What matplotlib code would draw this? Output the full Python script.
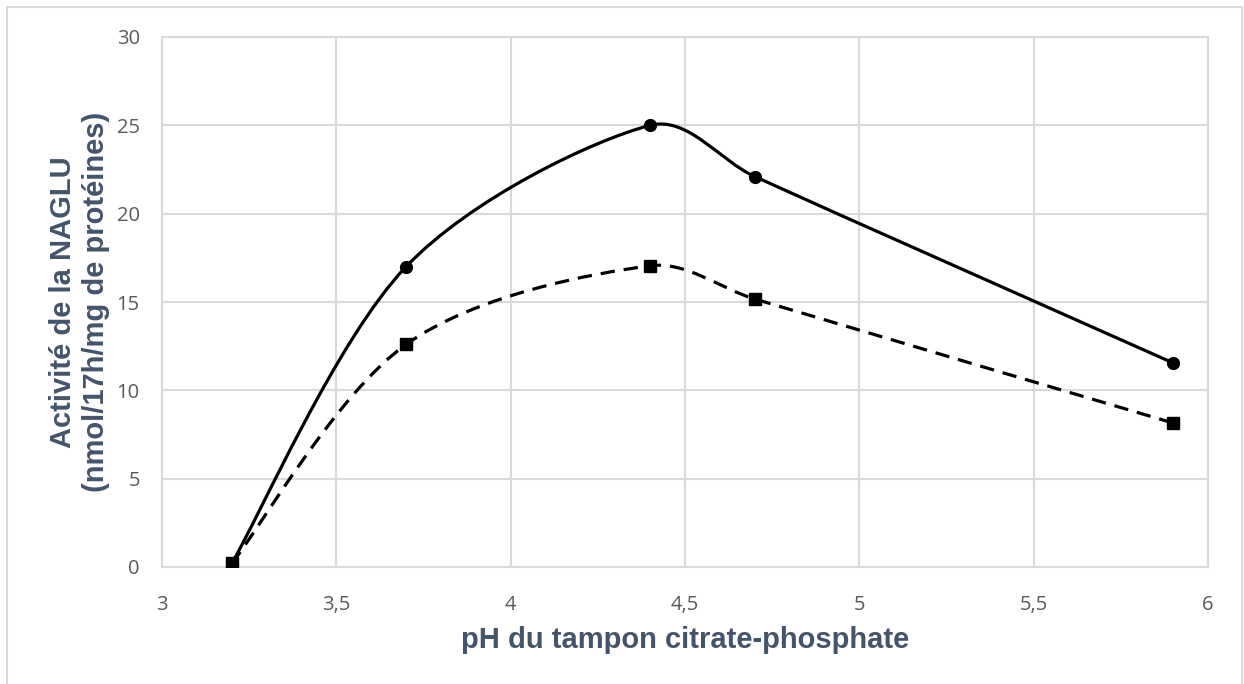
import numpy as np
import matplotlib
matplotlib.use("Agg")
from matplotlib import pyplot as plt
from matplotlib.path import Path
from matplotlib.patches import PathPatch, Rectangle
from matplotlib.ticker import FuncFormatter, MultipleLocator

# Data
ph = [3.2, 3.7, 4.4, 4.7, 5.9]
activite_1 = [0.2, 17.0, 25.0, 22.1, 11.55]   # solid line, circles
activite_2 = [0.2, 12.6, 17.05, 15.17, 8.15]  # dashed line, squares

X_LIM = (3, 6)
Y_LIM = (0, 30)
W, H, DPI = 1244, 684, 100

AX_LEFT, AX_RIGHT, AX_TOP, AX_BOTTOM = 162, 1208, 37, 567  # pixels

TICK_COLOR = "#595959"
TITLE_COLOR = "#44546A"
GRID_COLOR = "#D9D9D9"


def excel_smooth_path(xs, ys, sx, sy):
    """Bezier path through the points, Excel-like smoothing (computed in pixel space)."""
    p = np.column_stack([np.asarray(xs) * sx, np.asarray(ys) * sy])
    n = len(p)
    verts = [p[0]]
    codes = [Path.MOVETO]
    for i in range(n - 1):
        p0 = p[i - 1] if i > 0 else p[i]
        p1, p2 = p[i], p[i + 1]
        p3 = p[i + 2] if i + 2 < n else p[i + 1]
        d12 = np.linalg.norm(p2 - p1)
        t1 = (p2 - p0) / 6
        t2 = (p3 - p1) / 6
        for t in (t1, t2):
            L = np.linalg.norm(t)
            if L > d12 / 3:
                t *= (d12 / 3) / L
        verts += [p1 + t1, p2 - t2, p2]
        codes += [Path.CURVE4] * 3
    verts = np.array(verts)
    verts[:, 0] /= sx
    verts[:, 1] /= sy
    return Path(verts, codes)


fig = plt.figure(figsize=(W / DPI, H / DPI), dpi=DPI)
ax = fig.add_axes([
    AX_LEFT / W,
    1 - AX_BOTTOM / H,
    (AX_RIGHT - AX_LEFT) / W,
    (AX_BOTTOM - AX_TOP) / H,
])

# Outer chart border
fig.patches.append(Rectangle((7, -10), 1235, H - 7 + 10, transform=None,
                             fill=False, edgecolor=GRID_COLOR, linewidth=1.5))

ax.set_xlim(*X_LIM)
ax.set_ylim(*Y_LIM)

sx = (AX_RIGHT - AX_LEFT) / (X_LIM[1] - X_LIM[0])
sy = (AX_BOTTOM - AX_TOP) / (Y_LIM[1] - Y_LIM[0])

ax.add_patch(PathPatch(excel_smooth_path(ph, activite_1, sx, sy), fill=False,
                       edgecolor="black", linewidth=2.3, zorder=3))
ax.add_patch(PathPatch(excel_smooth_path(ph, activite_2, sx, sy), fill=False,
                       edgecolor="black", linewidth=2.3, zorder=3,
                       linestyle=(0, (4.5, 2.8)), capstyle="butt"))
ax.plot(ph, activite_1, linestyle="none", marker="o", markersize=8.5,
        color="black", zorder=4)
ax.plot(ph, activite_2, linestyle="none", marker="s", markersize=9,
        color="black", zorder=4)

# Axes styling
ax.xaxis.set_major_locator(MultipleLocator(0.5))
ax.yaxis.set_major_locator(MultipleLocator(5))
ax.xaxis.set_major_formatter(FuncFormatter(lambda v, _: f"{v:g}".replace(".", ",")))
ax.grid(True, color=GRID_COLOR, linewidth=1.5)
ax.set_axisbelow(True)
for s in ax.spines.values():
    s.set_color(GRID_COLOR)
    s.set_linewidth(1.5)
ax.tick_params(length=0, labelsize=14.5, labelcolor=TICK_COLOR,
               labelfontfamily="Open Sans")
ax.tick_params(axis="x", pad=20)
ax.tick_params(axis="y", pad=16)

ax.set_xlabel("pH du tampon citrate-phosphate", fontsize=21, fontweight="bold",
              color=TITLE_COLOR, family="Liberation Sans", labelpad=8)
ax.set_ylabel("Activité de la NAGLU\n(nmol/17h/mg de protéines)", fontsize=21,
              fontweight="bold", color=TITLE_COLOR, family="Liberation Sans",
              labelpad=5, linespacing=1.2)

fig.savefig("out.png", dpi=DPI)
